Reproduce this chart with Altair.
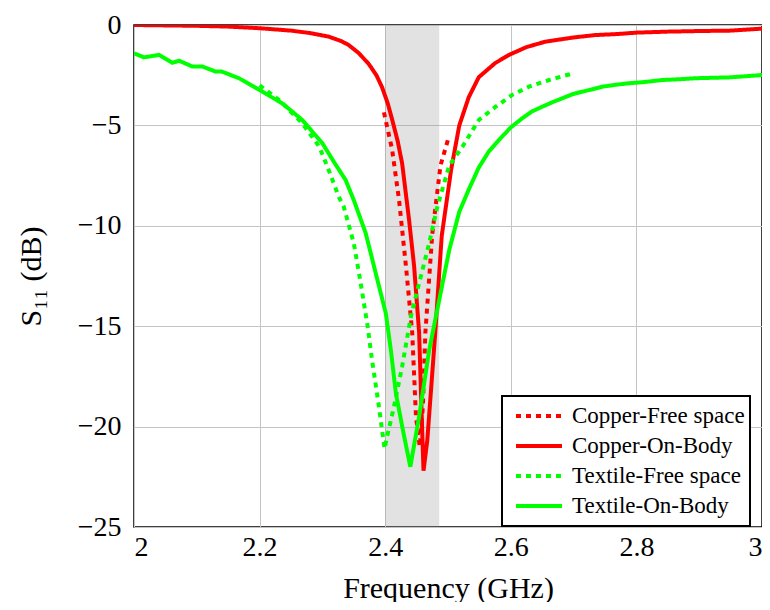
import altair as alt
import pandas as pd

# ---- data (frequency in GHz, S11 in dB) ----
cu_fs_f = [2.398, 2.411, 2.422, 2.433, 2.443, 2.449, 2.455, 2.460, 2.464, 2.475, 2.488, 2.501]
cu_fs_s = [-4.35, -6.2, -8.7, -12.0, -15.3, -19.5, -21.0, -19.0, -15.3, -10.4, -7.0, -5.6]

cu_ob_f = [2.0, 2.05, 2.1, 2.15, 2.2, 2.25, 2.28, 2.31, 2.33, 2.342, 2.358, 2.374, 2.386, 2.395,
           2.404, 2.411, 2.42, 2.427, 2.438, 2.446, 2.454, 2.459, 2.461, 2.467, 2.48, 2.49,
           2.505, 2.518, 2.533, 2.549, 2.575, 2.597, 2.625, 2.655, 2.7, 2.735, 2.77, 2.8,
           2.85, 2.9, 2.95, 3.0]
cu_ob_s = [0.0, -0.02, -0.04, -0.08, -0.16, -0.28, -0.4, -0.58, -0.8, -1.0, -1.4, -1.95, -2.5,
           -3.1, -3.9, -4.7, -5.8, -6.9, -9.7, -12.0, -15.3, -20.3, -22.2, -20.7, -15.2, -10.5,
           -7.2, -5.0, -3.6, -2.6, -1.9, -1.49, -1.1, -0.83, -0.62, -0.5, -0.45, -0.38,
           -0.33, -0.3, -0.28, -0.18]

tx_fs_f = [2.2, 2.231, 2.268, 2.295, 2.31, 2.326, 2.334, 2.350, 2.361, 2.372, 2.379, 2.390,
           2.399, 2.403, 2.414, 2.427, 2.441, 2.454, 2.470, 2.483, 2.502, 2.523, 2.549, 2.576,
           2.602, 2.629, 2.661, 2.7]
tx_fs_s = [-3.0, -3.73, -4.9, -6.06, -7.22, -8.55, -9.05, -10.87, -12.86, -15.0, -16.68, -19.0,
           -21.1, -20.5, -19.0, -17.0, -14.5, -12.86, -10.87, -9.05, -7.0, -6.06, -4.73, -4.07,
           -3.49, -3.07, -2.74, -2.4]

tx_ob_f = [2.0, 2.016, 2.04, 2.061, 2.072, 2.093, 2.109, 2.13, 2.14, 2.167, 2.2, 2.236, 2.268,
           2.3, 2.32, 2.337, 2.35, 2.369, 2.385, 2.401, 2.409, 2.417, 2.429, 2.440, 2.454, 2.470,
           2.486, 2.502, 2.518, 2.533, 2.549, 2.565, 2.581, 2.6, 2.618, 2.634, 2.650, 2.666,
           2.682, 2.698, 2.714, 2.73, 2.746, 2.766, 2.788, 2.81, 2.841, 2.87, 2.894, 2.92,
           2.947, 2.975, 3.0]
tx_ob_s = [-1.41, -1.61, -1.49, -1.88, -1.78, -2.07, -2.07, -2.32, -2.32, -2.65, -3.24, -3.9,
           -4.73, -5.89, -6.9, -7.72, -8.72, -10.37, -12.37, -14.36, -16.18, -18.34, -20.3,
           -22.0, -19.5, -16.2, -13.7, -11.2, -9.3, -8.2, -7.1, -6.3, -5.73, -5.1, -4.65, -4.3,
           -4.07, -3.85, -3.65, -3.45, -3.32, -3.2, -3.07, -2.98, -2.90, -2.85, -2.74, -2.7,
           -2.65, -2.63, -2.61, -2.55, -2.49]

band_start = [2.4]
band_end = [2.486]

series_names = ["Copper-Free space", "Copper-On-Body", "Textile-Free space", "Textile-On-Body"]
series_colors = ["#ff0000", "#ff0000", "#00ff00", "#00ff00"]
series_dashes = [[5, 5], [1, 0], [5, 5], [1, 0]]

x_ticks = [2, 2.2, 2.4, 2.6, 2.8, 3]
y_ticks = [-25, -20, -15, -10, -5, 0]

W, H = 628, 502
FONT = "Liberation Serif"

xscale = alt.Scale(domain=[2, 3], nice=False, zero=False)
yscale = alt.Scale(domain=[-25, 0], nice=False)
xaxis = alt.Axis(values=x_ticks, format="~g", title="Frequency (GHz)", labelPadding=6,
                 titleY=70, titleBaseline="alphabetic")
yaxis = alt.Axis(values=y_ticks, format="~g", title="S₁₁ (dB)", labelPadding=13,
                 titleX=-103, titleY=H / 2, titleBaseline="middle")

legend = alt.Legend(orient="none", legendX=368, legendY=371, title=None,
                    symbolType="stroke", symbolSize=2116, symbolStrokeWidth=4,
                    clipHeight=30, rowPadding=0, padding=5, symbolOffset=7, labelOffset=8,
                    labelFont=FONT, labelFontSize=23, labelColor="black", labelLimit=400,
                    strokeColor="black", fillColor="white",
                    labelExpr="datum.label + '\u2002\u2005'")

color = alt.Color("series:N", scale=alt.Scale(domain=series_names, range=series_colors), legend=legend)
dash = alt.StrokeDash("series:N", scale=alt.Scale(domain=series_names, range=series_dashes), legend=legend)

band = alt.Chart(pd.DataFrame({"start": band_start, "end": band_end})).mark_rect(
    color="#8c8c8c", opacity=0.25
).encode(
    x=alt.X("start:Q", scale=xscale, axis=xaxis),
    x2="end:Q",
    y=alt.value(0),
    y2=alt.value(H),
)

def line_layer(name, f, s):
    df = pd.DataFrame({"freq": f, "s11": s, "series": name})
    return alt.Chart(df).mark_line(strokeWidth=4, clip=True).encode(
        x=alt.X("freq:Q", scale=xscale, axis=xaxis),
        y=alt.Y("s11:Q", scale=yscale, axis=yaxis),
        color=color,
        strokeDash=dash,
    )

chart = alt.layer(
    band,
    line_layer(series_names[0], cu_fs_f, cu_fs_s),
    line_layer(series_names[1], cu_ob_f, cu_ob_s),
    line_layer(series_names[2], tx_fs_f, tx_fs_s),
    line_layer(series_names[3], tx_ob_f, tx_ob_s),
).properties(
    width=W, height=H,
    autosize=alt.AutoSizeParams(type="none"),
    padding={"left": 126, "top": 17, "right": 0, "bottom": 75},
).configure_view(
    stroke="black", strokeWidth=1.5
).configure_axis(
    grid=True, gridColor="#c4c4c4", gridWidth=1, domain=False, ticks=False,
    labelFont=FONT, labelFontSize=28, labelColor="black",
    titleFont=FONT, titleFontSize=30, titleColor="black", titleFontWeight="normal",
).configure_legend(
    strokeWidth=2
)

chart.save("out.html", embed_options={"renderer": "svg", "actions": False})
